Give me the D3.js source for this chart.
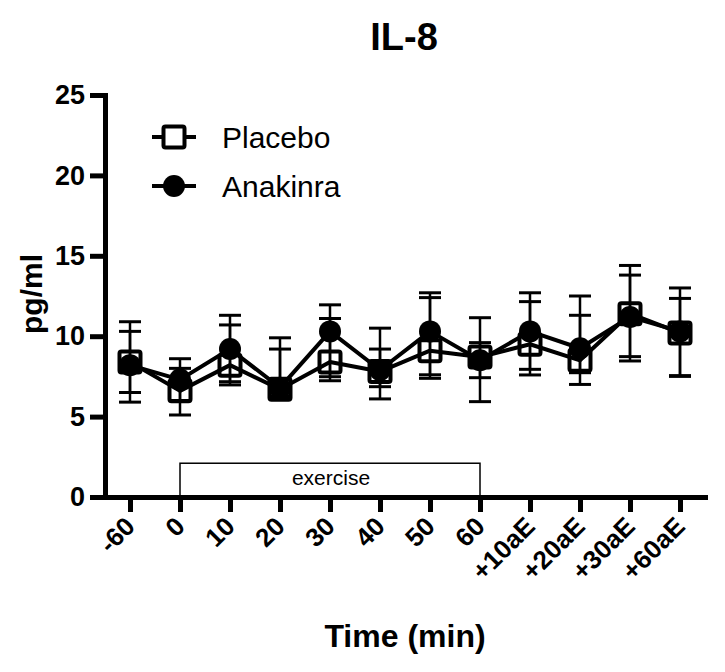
<!DOCTYPE html>
<html><head><meta charset="utf-8">
<script src="https://cdn.jsdelivr.net/npm/d3@7"></script>
<style>body{margin:0;background:#fff} svg{display:block}</style>
</head><body>
<svg id="c" width="725" height="672"></svg>
<script>
const categories = ["-60","0","10","20","30","40","50","60","+10aE","+20aE","+30aE","+60aE"];
const yTicks = [0,5,10,15,20,25];
const placeboMean = [8.4, 6.6, 8.2, 6.7, 8.4, 7.8, 9.1, 8.7, 9.5, 8.5, 11.4, 10.2];
const placeboHi   = [10.9, 8.0, 10.7, 9.2, 11.1, 10.5, 12.4, 11.15, 12.15, 11.3, 13.8, 12.35];
const placeboLo   = [5.9, 5.1, 6.97, 6.2, 7.23, 6.1, 7.38, 5.93, 7.59, 7.0, 8.46, 7.5];
const anakinraMean = [8.2, 7.3, 9.2, 6.8, 10.3, 7.9, 10.3, 8.5, 10.3, 9.25, 11.2, 10.3];
const anakinraHi   = [10.3, 8.6, 11.3, 9.9, 11.95, 9.2, 12.7, 9.6, 12.7, 12.5, 14.4, 13.0];
const anakinraLo   = [6.5, 6.0, 7.17, 6.3, 7.48, 6.86, 7.6, 7.42, 7.94, 7.73, 8.73, 7.55];
const exerciseSpan = ["0","60"];
const exerciseLabel = "exercise";
const seriesNames = ["Placebo","Anakinra"];

const svg = d3.select("#c");
const FONT = "'Liberation Sans', Arial, Helvetica, sans-serif";

const x = d3.scalePoint().domain(categories).range([105, 705]).padding(0.5);
const y = d3.scaleLinear().domain([0, 25]).range([497, 95]);

// Title
svg.append("text").attr("x", 404).attr("y", 50).attr("text-anchor","middle")
  .style("font-family", FONT).style("font-weight","bold").style("font-size","38px").text("IL-8");

// Exercise box
const exG = svg.append("g");
exG.append("rect").attr("x", x(exerciseSpan[0])).attr("y", y(2.1))
  .attr("width", x(exerciseSpan[1]) - x(exerciseSpan[0])).attr("height", y(0) - y(2.1))
  .attr("fill","none").attr("stroke","#000").attr("stroke-width",1.5);
exG.append("text").attr("x", (x(exerciseSpan[0]) + x(exerciseSpan[1]))/2 + 1).attr("y", 485)
  .attr("text-anchor","middle").style("font-family", FONT).style("font-size","21px").text(exerciseLabel);

// Axes
const yAxis = d3.axisLeft(y).tickValues(yTicks).tickSize(15).tickSizeOuter(0).tickPadding(5);
const gy = svg.append("g").attr("transform","translate(105,0)").call(yAxis);
gy.select(".domain").attr("stroke-width",5).attr("stroke-linecap","square");
gy.selectAll(".tick line").attr("stroke-width",5);
gy.selectAll(".tick text").style("font-family", FONT).style("font-weight","bold").style("font-size","27px").attr("fill","#000");

const xAxis = d3.axisBottom(x).tickSize(15).tickSizeOuter(0);
const gx = svg.append("g").attr("transform","translate(0,497)").call(xAxis);
gx.select(".domain").attr("stroke-width",5).attr("stroke-linecap","square");
gx.selectAll(".tick line").attr("stroke-width",5);
gx.selectAll(".tick text").attr("x",0).attr("y",0).attr("dy",null)
  .attr("transform","translate(6,31) rotate(-45)").attr("text-anchor","end")
  .style("font-family", FONT).style("font-weight","bold").style("font-size","26px").attr("fill","#000");

// Axis titles
svg.append("text").attr("transform","translate(42,294) rotate(-90)").attr("text-anchor","middle")
  .style("font-family", FONT).style("font-weight","bold").style("font-size","30px").text("pg/ml");
svg.append("text").attr("x", 405).attr("y", 647).attr("text-anchor","middle")
  .style("font-family", FONT).style("font-weight","bold").style("font-size","32px").text("Time (min)");

// Data
const plac = categories.map((c,i)=>({c, m:placeboMean[i], hi:placeboHi[i], lo:placeboLo[i]}));
const anak = categories.map((c,i)=>({c, m:anakinraMean[i], hi:anakinraHi[i], lo:anakinraLo[i]}));
const plot = svg.append("g");
const SQ = 21, CR = 11, CAP = 11;

plot.selectAll("rect.sq").data(plac).join("rect").attr("class","sq")
  .attr("x", d=>x(d.c)-SQ/2).attr("y", d=>y(d.m)-SQ/2).attr("width",SQ).attr("height",SQ)
  .attr("rx",2).attr("fill","#fff").attr("stroke","#000").attr("stroke-width",4);

function errBars(data){
  const g = plot.append("g").attr("stroke","#000");
  g.selectAll("line.v").data(data).join("line").attr("class","v")
    .attr("x1", d=>x(d.c)).attr("x2", d=>x(d.c)).attr("y1", d=>y(d.hi)).attr("y2", d=>y(d.lo)).attr("stroke-width",2.5);
  ["hi","lo"].forEach(k=>{
    g.selectAll("line.c"+k).data(data).join("line").attr("class","c"+k)
      .attr("x1", d=>x(d.c)-CAP).attr("x2", d=>x(d.c)+CAP).attr("y1", d=>y(d[k])).attr("y2", d=>y(d[k])).attr("stroke-width",3);
  });
}
errBars(plac);
errBars(anak);

const line = d3.line().x(d=>x(d.c)).y(d=>y(d.m));
plot.append("path").datum(plac).attr("d", line).attr("fill","none").attr("stroke","#000").attr("stroke-width",4).attr("stroke-linejoin","round");
plot.append("path").datum(anak).attr("d", line).attr("fill","none").attr("stroke","#000").attr("stroke-width",4).attr("stroke-linejoin","round");

plot.selectAll("circle.ci").data(anak).join("circle").attr("class","ci")
  .attr("cx", d=>x(d.c)).attr("cy", d=>y(d.m)).attr("r", CR).attr("fill","#000");

// Legend
const leg = svg.append("g");
const legY = [137, 186];
seriesNames.forEach((name,i)=>{
  const gy0 = legY[i];
  leg.append("line").attr("x1",152).attr("x2",196).attr("y1",gy0).attr("y2",gy0).attr("stroke","#000").attr("stroke-width",4);
  if(i===0){
    leg.append("rect").attr("x",174-SQ/2).attr("y",gy0-SQ/2).attr("width",SQ).attr("height",SQ).attr("rx",2)
      .attr("fill","#fff").attr("stroke","#000").attr("stroke-width",4);
  } else {
    leg.append("circle").attr("cx",174).attr("cy",gy0).attr("r",CR).attr("fill","#000");
  }
  leg.append("text").attr("x",222).attr("y",gy0+11).style("font-family",FONT).style("font-size","30px").text(name);
});
</script>
</body></html>
